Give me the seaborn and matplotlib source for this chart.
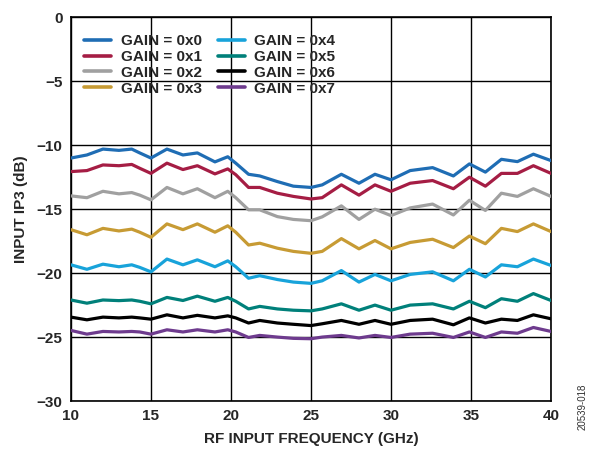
import matplotlib
matplotlib.use("Agg")
import matplotlib.pyplot as plt
import seaborn as sns
import pandas as pd

freq = [10, 11, 12, 13, 13.8, 14.3, 15, 16, 17, 17.9, 19, 19.8, 20.3, 21.1, 21.8, 22.9,
        23.9, 25, 25.7, 26.9, 28, 29, 30, 31.2, 32.6, 33.9, 34.9, 35.9, 36.9, 37.9, 38.9, 40]

gain0 = [-11.0, -10.76, -10.3, -10.4, -10.3, -10.6, -11.0, -10.3, -10.76, -10.6, -11.3, -10.9,
         -11.4, -12.27, -12.4, -12.84, -13.2, -13.3, -13.1, -12.27, -12.97, -12.27, -12.7,
         -11.98, -11.75, -12.4, -11.46, -12.1, -11.1, -11.28, -10.7, -11.2]
gain1 = [-12.06, -11.98, -11.54, -11.6, -11.5, -11.8, -12.2, -11.4, -11.9, -11.6, -12.24, -11.85,
         -12.3, -13.3, -13.3, -13.75, -14.0, -14.2, -14.1, -13.1, -13.9, -13.1, -13.6,
         -12.97, -12.76, -13.4, -12.5, -13.2, -12.2, -12.2, -11.6, -12.2]
gain2 = [-13.96, -14.1, -13.6, -13.8, -13.7, -13.9, -14.27, -13.3, -13.8, -13.4, -14.1, -13.6,
         -14.1, -15.05, -15.05, -15.58, -15.8, -15.9, -15.6, -14.74, -15.8, -15.0, -15.5,
         -14.9, -14.6, -15.45, -14.3, -15.1, -13.75, -14.0, -13.4, -14.0]
gain3 = [-16.6, -17.0, -16.5, -16.7, -16.56, -16.8, -17.2, -16.15, -16.6, -16.15, -16.8, -16.3,
         -16.8, -17.8, -17.66, -18.05, -18.3, -18.45, -18.3, -17.3, -18.1, -17.45, -18.1,
         -17.6, -17.35, -18.0, -17.1, -17.7, -16.5, -16.75, -16.15, -16.75]
gain4 = [-19.35, -19.7, -19.3, -19.5, -19.35, -19.55, -19.9, -18.9, -19.35, -18.96, -19.5, -19.04,
         -19.5, -20.4, -20.2, -20.5, -20.7, -20.8, -20.6, -19.8, -20.7, -20.1, -20.6,
         -20.1, -19.9, -20.6, -19.7, -20.3, -19.35, -19.5, -18.9, -19.4]
gain5 = [-22.1, -22.35, -22.1, -22.15, -22.1, -22.2, -22.4, -21.9, -22.14, -21.8, -22.2, -21.9,
         -22.2, -22.8, -22.6, -22.8, -22.9, -22.95, -22.8, -22.4, -22.9, -22.5, -22.9,
         -22.5, -22.4, -22.8, -22.2, -22.7, -22.0, -22.2, -21.6, -22.14]
gain6 = [-23.44, -23.65, -23.44, -23.5, -23.44, -23.5, -23.6, -23.26, -23.5, -23.3, -23.5, -23.34,
         -23.5, -23.9, -23.7, -23.9, -24.0, -24.1, -23.96, -23.7, -24.0, -23.7, -24.0,
         -23.7, -23.6, -24.04, -23.5, -23.9, -23.6, -23.7, -23.26, -23.57]
gain7 = [-24.48, -24.77, -24.56, -24.6, -24.56, -24.6, -24.77, -24.43, -24.6, -24.43, -24.6, -24.43,
         -24.6, -25.03, -24.87, -25.0, -25.1, -25.13, -25.0, -24.87, -25.07, -24.87, -25.03,
         -24.77, -24.7, -25.03, -24.6, -25.03, -24.6, -24.7, -24.25, -24.56]

labels = ["GAIN = 0x0", "GAIN = 0x1", "GAIN = 0x2", "GAIN = 0x3",
          "GAIN = 0x4", "GAIN = 0x5", "GAIN = 0x6", "GAIN = 0x7"]
colors = ["#1f6db4", "#a51d44", "#a0a0a0", "#c79b34",
          "#18a3da", "#00807a", "#000000", "#6e3b8e"]

series = [gain0, gain1, gain2, gain3, gain4, gain5, gain6, gain7]
frames = [pd.DataFrame({"freq": freq, "ip3": vals, "gain": lab}) for lab, vals in zip(labels, series)]
df = pd.concat(frames, ignore_index=True)

sns.set_style("white")
plt.rcParams["font.family"] = ["Liberation Sans", "DejaVu Sans"]
plt.rcParams["font.weight"] = "bold"

fig = plt.figure(figsize=(5.96, 4.57), dpi=100)
ax = fig.add_axes([0.119, 0.1225, 0.8055, 0.8395])

sns.lineplot(data=df, x="freq", y="ip3", hue="gain", hue_order=labels,
             palette=colors, linewidth=2.3, ax=ax, zorder=3)

ax.set_xlim(10, 40)
ax.set_ylim(-30, 0)
ax.set_xticks(range(10, 41, 5))
ax.set_yticks(range(-30, 1, 5))
ax.set_yticklabels([str(v).replace("-", "\u2212") for v in range(-30, 1, 5)])
ax.grid(True, color="black", linewidth=1.0)
ax.set_axisbelow(True)
for s in ax.spines.values():
    s.set_color("black")
    s.set_linewidth(1.2)
ax.tick_params(axis="both", labelsize=11, length=0, pad=6)
for t in ax.get_xticklabels() + ax.get_yticklabels():
    t.set_fontweight("bold")

ax.set_xlabel("RF INPUT FREQUENCY (GHz)", fontsize=11, fontweight="bold", labelpad=6)
ax.set_ylabel("INPUT IP3 (dB)", fontsize=11, fontweight="bold", labelpad=6)

leg = ax.legend(loc="upper left", bbox_to_anchor=(0.027, 0.957), ncol=2, frameon=False,
                fontsize=11, handlelength=1.8, handletextpad=0.6, columnspacing=1.05,
                labelspacing=0.13, borderpad=0, borderaxespad=0)
for t in leg.get_texts():
    t.set_fontweight("bold")
for h in leg.get_lines():
    h.set_linewidth(2.6)

fig.text(0.977, 0.11, "20539-018", rotation=90, fontsize=7, color="#333333",
         ha="center", va="center", fontweight="normal")

fig.savefig("out.png", dpi=100)
